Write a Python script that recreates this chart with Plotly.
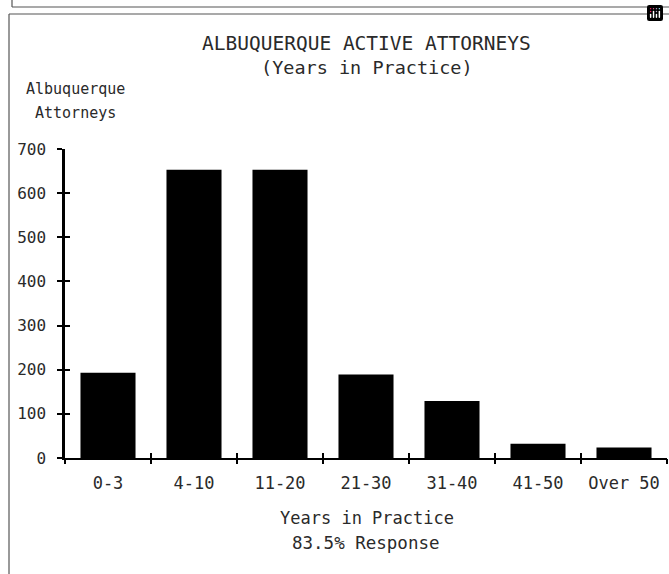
import plotly.graph_objects as go

# ---- data ----
categories = ["0-3", "4-10", "11-20", "21-30", "31-40", "41-50", "Over 50"]
attorneys = [193, 653, 653, 189, 129, 32, 24]
y_ticks = [0, 100, 200, 300, 400, 500, 600, 700]

title_text = "ALBUQUERQUE ACTIVE ATTORNEYS"
subtitle_text = "(Years in Practice)"
y_title_lines = ["Albuquerque", "Attorneys"]
x_title_lines = ["Years in Practice", "83.5% Response"]

# ---- layout geometry (pixels) ----
W, H = 669, 574
ML, MR, MT, MB = 65, 2, 149, 116
PW, PH = W - ML - MR, H - MT - MB

def px_x(px):
    return (px - ML) / PW

def px_y(py):
    return (H - MB - py) / PH

FONT = "DejaVu Sans Mono"
TXT = "#2a2a2a"

xs = list(range(len(categories)))
bounds = [i - 0.5 for i in range(len(categories) + 1)]
xrange_ = [-0.5, len(categories) - 0.5]

fig = go.Figure()
fig.add_trace(go.Bar(x=xs, y=attorneys, width=0.64,
                     marker=dict(color="black", line=dict(width=0)),
                     hoverinfo="skip", showlegend=False))
# empty traces to keep overlay axes alive
fig.add_trace(go.Scatter(x=[], y=[], xaxis="x2", yaxis="y", showlegend=False))
fig.add_trace(go.Scatter(x=[], y=[], xaxis="x3", yaxis="y", showlegend=False))
fig.add_trace(go.Scatter(x=[], y=[], xaxis="x", yaxis="y2", showlegend=False))

common_x = dict(range=xrange_, showgrid=False, zeroline=False, fixedrange=True)
common_y = dict(range=[0, 700], showgrid=False, zeroline=False, fixedrange=True)

fig.update_layout(
    width=W, height=H,
    margin=dict(l=ML, r=MR, t=MT, b=MB, pad=0),
    paper_bgcolor="white", plot_bgcolor="white",
    font=dict(family=FONT, color=TXT),
    modebar=dict(bgcolor="rgba(0,0,0,0)", color="rgba(0,0,0,0)",
                 activecolor="rgba(0,0,0,0)"),
    xaxis=dict(**common_x, tickvals=xs, ticktext=categories, ticks="",
               showline=True, linecolor="black", linewidth=2,
               tickfont=dict(family=FONT, size=17, color=TXT),
               ticklabelstandoff=9),
    xaxis2=dict(**common_x, overlaying="x", anchor="y", side="bottom",
                tickvals=bounds, ticks="outside", ticklen=5, tickwidth=2,
                tickcolor="black", showticklabels=False, showline=False),
    xaxis3=dict(**common_x, overlaying="x", anchor="y", side="bottom",
                tickvals=bounds, ticks="inside", ticklen=5, tickwidth=2,
                tickcolor="black", showticklabels=False, showline=False),
    yaxis=dict(**common_y, tickvals=y_ticks, ticks="outside", ticklen=5,
               tickwidth=2, tickcolor="black", showline=True,
               linecolor="black", linewidth=2.5,
               tickfont=dict(family=FONT, size=16, color=TXT),
               ticklabelstandoff=8),
    yaxis2=dict(**common_y, overlaying="y", anchor="x", side="left",
                tickvals=y_ticks, ticks="inside", ticklen=5, tickwidth=2,
                tickcolor="black", showticklabels=False, showline=False),
)

def note(text, cx, cy, size):
    fig.add_annotation(text=text, x=px_x(cx), y=px_y(cy), xref="paper",
                       yref="paper", xanchor="center", yanchor="middle",
                       showarrow=False, font=dict(family=FONT, size=size,
                                                  color=TXT))

note(title_text, 366, 43, 19.5)
note(subtitle_text, 367, 67, 18.5)
note(y_title_lines[0], 75, 89, 15)
note(y_title_lines[1], 75, 113, 15)
note(x_title_lines[0], 367, 518, 17)
note(x_title_lines[1], 366, 543, 17.5)

# scanned page frame lines
frame = [((12, 0), (12, 7)), ((12, 7), (669, 7)),
         ((9, 14), (669, 14)), ((9, 14), (9, 574))]
for (x0, y0), (x1, y1) in frame:
    fig.add_shape(type="line", xref="paper", yref="paper",
                  x0=px_x(x0), y0=px_y(y0), x1=px_x(x1), y1=px_y(y1),
                  line=dict(color="#555", width=1.2))

fig.write_html("out.html",
               post_script="document.body.style.margin='0';"
                           "document.body.style.overflow='hidden';")
